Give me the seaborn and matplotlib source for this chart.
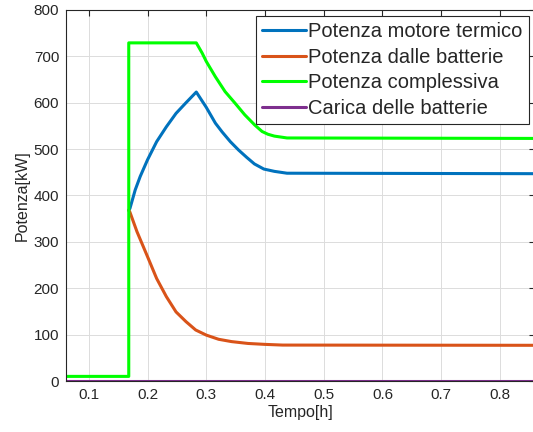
import numpy as np
import matplotlib
matplotlib.use('Agg')
import matplotlib.pyplot as plt
import seaborn as sns

# =============================================================================
# Data
# =============================================================================
t_termico = [0.168, 0.17, 0.179, 0.1875, 0.2, 0.2155, 0.232, 0.2485, 0.2655,
             0.283, 0.3, 0.3155, 0.327, 0.341, 0.355, 0.369, 0.382, 0.398,
             0.416, 0.4375, 0.86]
p_termico = [368, 372, 412, 441, 477, 516, 548, 577, 600,
             623, 590, 556, 537, 516, 498, 482, 468, 457,
             452, 448, 447]

t_batterie = [0.168, 0.17, 0.182, 0.2, 0.2155, 0.232, 0.2485, 0.2655, 0.282,
              0.3, 0.321, 0.343, 0.371, 0.4, 0.43, 0.86]
p_batterie = [368, 364, 322, 268, 221, 182, 149, 128, 110,
              99, 90, 85, 81, 79, 77.5, 77]

t_totale = [0.0613, 0.168, 0.168, 0.283, 0.293, 0.3, 0.3155, 0.332, 0.349,
            0.3655, 0.3825, 0.395, 0.405, 0.416, 0.4375, 0.86]
p_totale = [10, 10, 729, 729, 707, 689, 656, 624, 599,
            574, 552, 538, 532, 528, 524, 523]

t_carica = [0.0613, 0.86]
p_carica = [0, 0]

labels = ['Potenza motore termico', 'Potenza dalle batterie',
          'Potenza complessiva', 'Carica delle batterie']
colors = ['#0072BD', '#D95319', '#00FF00', '#7E2F8E']

xticks = [0.1, 0.2, 0.3, 0.4, 0.5, 0.6, 0.7, 0.8]
yticks = [0, 100, 200, 300, 400, 500, 600, 700, 800]

# =============================================================================
# Plot
# =============================================================================
sns.set_style('white')
plt.rcParams['font.family'] = ['Liberation Sans', 'DejaVu Sans']

fig = plt.figure(figsize=(5.33, 4.32), dpi=100)
ax = fig.add_axes([0.124, 0.118, 0.88, 0.859])

series = [(t_termico, p_termico), (t_batterie, p_batterie),
          (t_totale, p_totale), (t_carica, p_carica)]
for (tx, py), lab, col in zip(series, labels, colors):
    sns.lineplot(x=tx, y=py, ax=ax, color=col, lw=2.2, label=lab,
                 estimator=None, sort=False)

ax.set_xlim(0.0613, 0.86)
ax.set_ylim(0, 800)
ax.set_xticks(xticks)
ax.set_yticks(yticks)
ax.set_xticklabels([f'{v:g}' for v in xticks])
ax.tick_params(direction='in', length=4, width=0.8, labelsize=11,
               colors='#262626', top=True, right=True, pad=5)
ax.grid(True, color='#dcdcdc', lw=0.7)
for s in ax.spines.values():
    s.set_color('#262626')
    s.set_linewidth(0.8)

ax.set_xlabel('Tempo[h]', fontsize=11.5, color='#262626', labelpad=2)
ax.set_ylabel('Potenza[kW]', fontsize=11.5, color='#262626', labelpad=3)

leg = ax.legend(loc='upper right', fontsize=14.5, frameon=True, fancybox=False,
                edgecolor='#262626', framealpha=1, handlelength=2.2,
                handletextpad=0.1, borderpad=0.3, labelspacing=0.33,
                borderaxespad=0.3, bbox_to_anchor=(0.999, 1.0))
leg.get_frame().set_linewidth(0.8)

plt.savefig('out.png', dpi=100)
plt.close()
